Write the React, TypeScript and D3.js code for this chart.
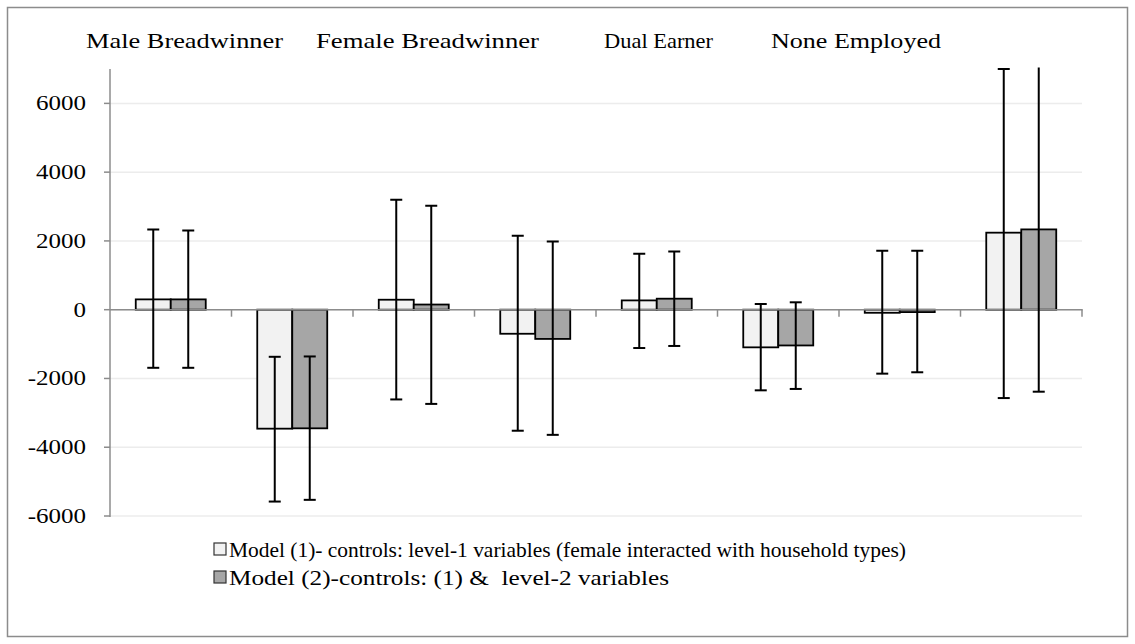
import React, { useEffect, useRef } from "react";
import * as d3 from "d3";

// 8 bar slots: each household type has two slots
const categories = ["mb1", "mb2", "fb1", "fb2", "de1", "de2", "ne1", "ne2"];
const groupTitles = ["Male Breadwinner", "Female Breadwinner", "Dual Earner", "None Employed"];
const seriesNames = [
  "Model (1)- controls: level-1 variables (female interacted with household types)",
  "Model (2)-controls: (1) &  level-2 variables",
];
const model1 = [300, -3460, 290, -700, 270, -1095, -90, 2240];
const model1Lo = [-1690, -5580, -2610, -3520, -1115, -2345, -1860, -2570];
const model1Hi = [2330, -1370, 3200, 2150, 1630, 165, 1715, 7000];
const model2 = [300, -3450, 150, -850, 320, -1040, -70, 2335];
const model2Lo = [-1690, -5530, -2740, -3640, -1055, -2305, -1820, -2385];
const model2Hi = [2300, -1360, 3020, 1980, 1690, 215, 1715, 7400];
const yTicks = [-6000, -4000, -2000, 0, 2000, 4000, 6000];

const W = 1135;
const H = 644;
const plot = { left: 110, right: 1082, top: 69, bottom: 516 };
// the titles are loose text boxes in the original, not centred on the groups
const titleLayout = [
  { x: 86, w: 197 },
  { x: 316, w: 223 },
  { x: 604, w: 109 },
  { x: 771, w: 170 },
];
const fills = ["#f2f2f2", "#a6a6a6"];
const font = "'Liberation Serif', 'Times New Roman', Times, 'DejaVu Serif', serif";

const App = () => {
  const ref = useRef<SVGSVGElement | null>(null);

  useEffect(() => {
    document.body.style.margin = "0";
    const svg = d3.select(ref.current);
    svg.selectAll("*").remove();

    const x = d3.scaleBand<string>().domain(categories).range([plot.left, plot.right]).paddingInner(0).paddingOuter(0);
    const x1 = d3.scaleBand<string>().domain(["m1", "m2"]).range([0, x.bandwidth()]).paddingInner(0).paddingOuter(0.736);
    const y = d3.scaleLinear().domain([-6000, 7000]).range([plot.bottom, plot.top]);

    // chart frame
    svg.append("rect")
      .attr("x", 7.5).attr("y", 7.5).attr("width", W - 15).attr("height", H - 15)
      .attr("fill", "white").attr("stroke", "#8c8c8c").attr("stroke-width", 1.5);

    // gridlines
    svg.append("g").selectAll("line").data(yTicks).join("line")
      .attr("x1", plot.left).attr("x2", plot.right)
      .attr("y1", (d) => y(d)).attr("y2", (d) => y(d))
      .attr("stroke", "#ececec").attr("stroke-width", 1.5);

    const series = [
      { key: "m1", vals: model1, lo: model1Lo, hi: model1Hi },
      { key: "m2", vals: model2, lo: model2Lo, hi: model2Hi },
    ];

    // bars
    series.forEach((s, si) => {
      svg.append("g").selectAll("rect").data(s.vals).join("rect")
        .attr("x", (_, i) => x(categories[i])! + x1(s.key)!)
        .attr("width", x1.bandwidth())
        .attr("y", (d) => y(Math.max(0, d)))
        .attr("height", (d) => Math.abs(y(d) - y(0)))
        .attr("fill", fills[si]).attr("stroke", "#000").attr("stroke-width", 1.8);
    });

    // y axis
    const axisColor = "#8c8c8c";
    svg.append("line")
      .attr("x1", plot.left).attr("x2", plot.left).attr("y1", plot.top).attr("y2", plot.bottom + 1)
      .attr("stroke", axisColor).attr("stroke-width", 1.5);
    svg.append("g").selectAll("line").data(yTicks).join("line")
      .attr("x1", plot.left - 6).attr("x2", plot.left)
      .attr("y1", (d) => y(d)).attr("y2", (d) => y(d))
      .attr("stroke", axisColor).attr("stroke-width", 1.5);
    svg.append("g").selectAll("text").data(yTicks).join("text")
      .attr("transform", (d) => `translate(86,${y(d) + 7}) scale(1.25,1)`)
      .attr("text-anchor", "end")
      .attr("font-family", font).attr("font-size", 20).attr("fill", "#000")
      .text((d) => d);

    // x axis at zero
    svg.append("line")
      .attr("x1", plot.left).attr("x2", plot.right + 0.75).attr("y1", y(0)).attr("y2", y(0))
      .attr("stroke", axisColor).attr("stroke-width", 1.5);
    const bounds = categories.map((c) => x(c)! + x.bandwidth());
    svg.append("g").selectAll("line").data(bounds).join("line")
      .attr("x1", (d) => d).attr("x2", (d) => d)
      .attr("y1", y(0)).attr("y2", y(0) + 7)
      .attr("stroke", axisColor).attr("stroke-width", 1.5);

    // error bars, clipped to the plot area
    svg.append("clipPath").attr("id", "plotClip")
      .append("rect").attr("x", plot.left).attr("y", plot.top - 1.5)
      .attr("width", plot.right - plot.left).attr("height", plot.bottom - plot.top + 10);
    const eg = svg.append("g").attr("clip-path", "url(#plotClip)");
    series.forEach((s) => {
      s.vals.forEach((_, i) => {
        const cx = x(categories[i])! + x1(s.key)! + x1.bandwidth() / 2;
        eg.append("line")
          .attr("x1", cx).attr("x2", cx).attr("y1", y(s.lo[i])).attr("y2", y(s.hi[i]))
          .attr("stroke", "#000").attr("stroke-width", 2);
        [s.lo[i], s.hi[i]].forEach((v) => {
          eg.append("line")
            .attr("x1", cx - 6).attr("x2", cx + 6).attr("y1", y(v)).attr("y2", y(v))
            .attr("stroke", "#000").attr("stroke-width", 2);
        });
      });
    });

    // household titles
    svg.append("g").selectAll("text").data(groupTitles).join("text")
      .attr("x", (_, i) => titleLayout[i].x).attr("y", 48)
      .attr("textLength", (_, i) => titleLayout[i].w).attr("lengthAdjust", "spacingAndGlyphs")
      .attr("font-family", font).attr("font-size", 22).attr("fill", "#000")
      .text((d) => d);

    // legend
    const legendWidths = [677, 440];
    const lg = svg.append("g");
    seriesNames.forEach((name, i) => {
      const ly = 549 + i * 28;
      lg.append("rect")
        .attr("x", 214).attr("y", ly - 6).attr("width", 12).attr("height", 12)
        .attr("fill", fills[i]).attr("stroke", "#333").attr("stroke-width", 1.2);
      lg.append("text")
        .attr("x", 229).attr("y", ly + 7.5)
        .attr("textLength", legendWidths[i]).attr("lengthAdjust", "spacingAndGlyphs")
        .attr("font-family", font).attr("font-size", 21).attr("fill", "#000")
        .attr("xml:space", "preserve")
        .text(name);
    });

    return () => {
      d3.select(ref.current).selectAll("*").remove();
    };
  }, []);

  return <svg ref={ref} width={W} height={H} style={{ display: "block" }}></svg>;
};

export default App;
